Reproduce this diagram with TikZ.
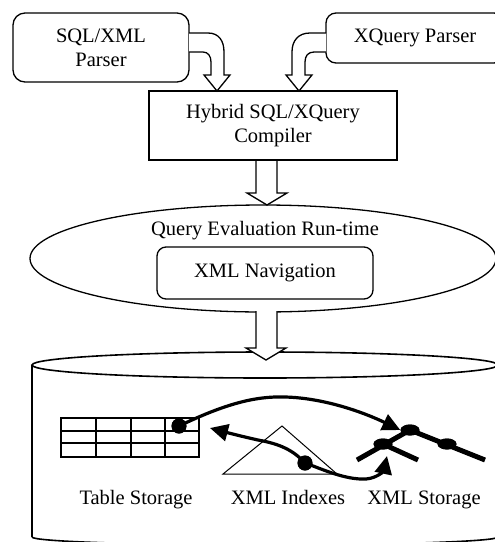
\documentclass[tikz,border=0pt]{standalone}
\usepackage{fontspec}
\setmainfont{Liberation Serif}
\usetikzlibrary{arrows.meta,shapes.geometric}
\begin{document}
\begin{tikzpicture}[x=1pt,y=-1pt,
  every node/.style={font=\fontsize{20.5}{24}\selectfont},
  rbox/.style={draw, rounded corners=12pt, line width=1.3pt, align=center, inner sep=0pt},
  cbox/.style={draw, line width=2.2pt, align=center, inner sep=0pt},
  hollow/.style={draw, fill=white, line width=1.3pt, line join=miter},
  cyl/.style={line width=1.6pt},
  grid/.style={line width=2.5pt},
  flow/.style={line width=3.2pt, -{Triangle[length=18pt,width=17pt]}},
  tedge/.style={line width=5pt},
  tnode/.style={ellipse, fill=black, minimum width=19pt, minimum height=11pt, inner sep=0pt},
  dot/.style={circle, fill=black, minimum size=15pt, inner sep=0pt},
  lbl/.style={anchor=base, inner sep=0pt}
]
\useasboundingbox (0,0) rectangle (495,542);
\fill[white] (0,0) rectangle (495,542);
\clip (0,0) rectangle (495,542);

% parsers and compiler
\node[rbox, minimum width=176pt, minimum height=69pt] (sqlp) at (101,47.5) {SQL/XML\\Parser};
\node[rbox, rounded corners=10pt, minimum width=178pt, minimum height=50pt] (xqp) at (415,38) {XQuery Parser};
\node[cbox, minimum width=248pt, minimum height=69pt] (comp) at (273,125.5) {Hybrid SQL/XQuery\\Compiler};

% hollow bent arrows
\draw[hollow] (189,33) -- (208,33) .. controls (219,33) and (224,41) .. (224,52) -- (224,75) -- (230,75) -- (217,91) -- (204,75) -- (211,75) -- (211,62) .. controls (211,56) and (208,52) .. (203,52) -- (189,52);
\draw[hollow] (326,33) -- (310,33) .. controls (298,33) and (292,41) .. (292,52) -- (292,75) -- (286,75) -- (299,91) -- (312,75) -- (305,75) -- (305,62) .. controls (305,56) and (308,52) .. (314,52) -- (326,52);

% query evaluation
\node[draw, ellipse, line width=1.3pt, minimum width=466pt, minimum height=107pt, inner sep=0pt] (qer) at (263,258.5) {};
\node[lbl] (qlab) at (265,235) {Query Evaluation Run-time};
\node[rbox, rounded corners=9pt, minimum width=216pt, minimum height=52pt] (nav) at (265,273) {XML Navigation};

\draw[hollow] (256,161) -- (256,193) -- (247,193) -- (267,205) -- (287,193) -- (277,193) -- (277,161);

% storage cylinder
\draw[cyl] (32,537) -- (32,365);
\draw[cyl] (265,365) ellipse [x radius=233, y radius=13];
\draw[cyl] (32,537) arc[start angle=180, end angle=0, x radius=233, y radius=8];

\draw[hollow] (256,311) -- (256,348) -- (246,348) -- (266,360) -- (286,348) -- (277,348) -- (277,311);

% table storage
\draw[grid] (61,418) rectangle (199,457);
\foreach \x in {96,131,165} \draw[grid] (\x,418) -- (\x,457);
\foreach \y in {431,443} \draw[grid] (61,\y) -- (199,\y);

% index triangle
\draw[line width=1pt] (223,474) -- (282,426) -- (337,474) -- cycle;

% xml tree
\coordinate (te1) at (485,460);
\coordinate (te2) at (357,460);
\coordinate (te3) at (418,460);
\node[tnode] (ta) at (410,430) {};
\node[tnode] (tb) at (383,444) {};
\node[tnode] (tc) at (447,444) {};
\draw[tedge] (ta.center) -- (te1);
\draw[tedge] (ta.center) -- (te2);
\draw[tedge] (tb.center) -- (te3);
\node[tnode] at (ta) {};
\node[tnode] at (tb) {};
\node[tnode] at (tc) {};

% flows
\node[dot] (d1) at (179,426) {};
\node[dot] (d2) at (305,463) {};
\coordinate (tipL) at (210,428);
\coordinate (tipR) at (387,456);
\draw[flow] (d1.center) .. controls (225,404) and (255,396) .. (285,397) .. controls (325,398) and (365,413) .. (ta.west);
\draw[flow] (d2.center) .. controls (293,450) and (280,444) .. (258,440) .. controls (240,436) and (225,432) .. (tipL);
\draw[flow] (d2.center) .. controls (322,469) and (345,480) .. (366,479) .. controls (378,478) and (384,470) .. (tipR);
\node[dot] at (d1) {};
\node[dot] at (d2) {};

% labels
\node[lbl] (ts) at (136,504) {Table Storage};
\node[lbl] (xi) at (288,504) {XML Indexes};
\node[lbl] (xs) at (424,504) {XML Storage};
\end{tikzpicture}
\end{document}
